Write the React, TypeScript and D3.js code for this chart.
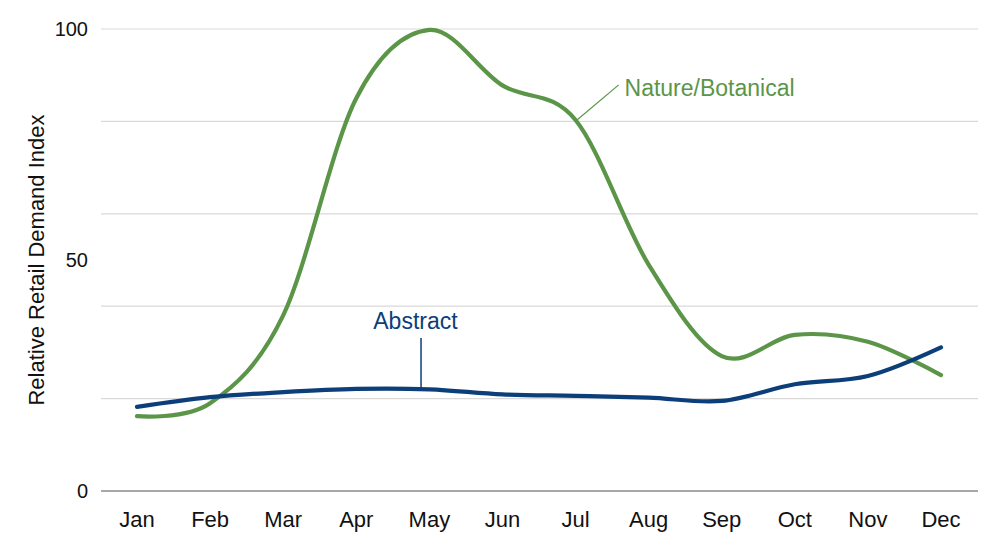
import * as d3 from 'd3'

const months = ['Jan', 'Feb', 'Mar', 'Apr', 'May', 'Jun', 'Jul', 'Aug', 'Sep', 'Oct', 'Nov', 'Dec']
const nature = [16.2, 19.0, 38, 85, 99.8, 87.8, 80.3, 49, 29.2, 33.8, 32.3, 25.1]
const abstract = [18.2, 20.3, 21.4, 22.1, 22.0, 20.9, 20.6, 20.2, 19.5, 23.1, 24.9, 31.1]
const gridTicks = [0, 20, 40, 60, 80, 100]
const labelTicks = [0, 50, 100]

const GREEN = '#5b9548'
const BLUE = '#0c3e79'
const FONT = 'Liberation Sans, Arial, sans-serif'

export default function App() {
  const width = 1000
  const height = 545
  const plot = { left: 101, right: 978, top: 29, bottom: 491 }

  // month index -> pixel
  const x = d3.scaleLinear().domain([0, months.length - 1]).range([137, 941])
  const y = d3.scaleLinear().domain([0, 100]).range([plot.bottom, plot.top])

  const line = d3
    .line<number>()
    .x((_, i) => x(i))
    .y(d => y(d))
    .curve(d3.curveCardinal.tension(0))

  return (
    <svg
      width={width}
      height={height}
      style={{ position: 'absolute', left: 0, top: 0, background: '#fff' }}
      fontFamily={FONT}
    >
      {/* grid */}
      {gridTicks.map(t => (
        <line
          key={t}
          x1={plot.left}
          x2={plot.right}
          y1={y(t)}
          y2={y(t)}
          stroke={t === 0 ? '#8a8a8a' : '#d9d9d9'}
          strokeWidth={t === 0 ? 1.5 : 1.2}
        />
      ))}
      {labelTicks.map(t => (
        <text key={t} x={88} y={y(t)} dy="0.35em" textAnchor="end" fontSize={20} fill="#111">
          {t}
        </text>
      ))}
      {months.map((m, i) => (
        <text key={m} x={x(i)} y={527} textAnchor="middle" fontSize={22} fill="#111">
          {m}
        </text>
      ))}
      <text
        transform={`translate(44,${(plot.top + plot.bottom) / 2}) rotate(-90)`}
        textAnchor="middle"
        fontSize={22}
        fill="#111"
      >
        Relative Retail Demand Index
      </text>

      {/* series */}
      <path d={line(nature) ?? ''} fill="none" stroke={GREEN} strokeWidth={4.2} strokeLinecap="round" />
      <path d={line(abstract) ?? ''} fill="none" stroke={BLUE} strokeWidth={4.2} strokeLinecap="round" />

      {/* annotations */}
      <line x1={x(3.886)} x2={x(3.886)} y1={y(33.1)} y2={y(22.3)} stroke={BLUE} strokeWidth={1.5} />
      <text x={x(3.81)} y={y(35.1)} textAnchor="middle" fontSize={23} fill={BLUE}>
        Abstract
      </text>
      <line x1={x(6.02)} y1={y(80.3)} x2={x(6.59)} y2={y(87.9)} stroke={GREEN} strokeWidth={1.2} />
      <text x={x(6.67)} y={y(85.5)} fontSize={23} fill={GREEN}>
        Nature/Botanical
      </text>
    </svg>
  )
}
